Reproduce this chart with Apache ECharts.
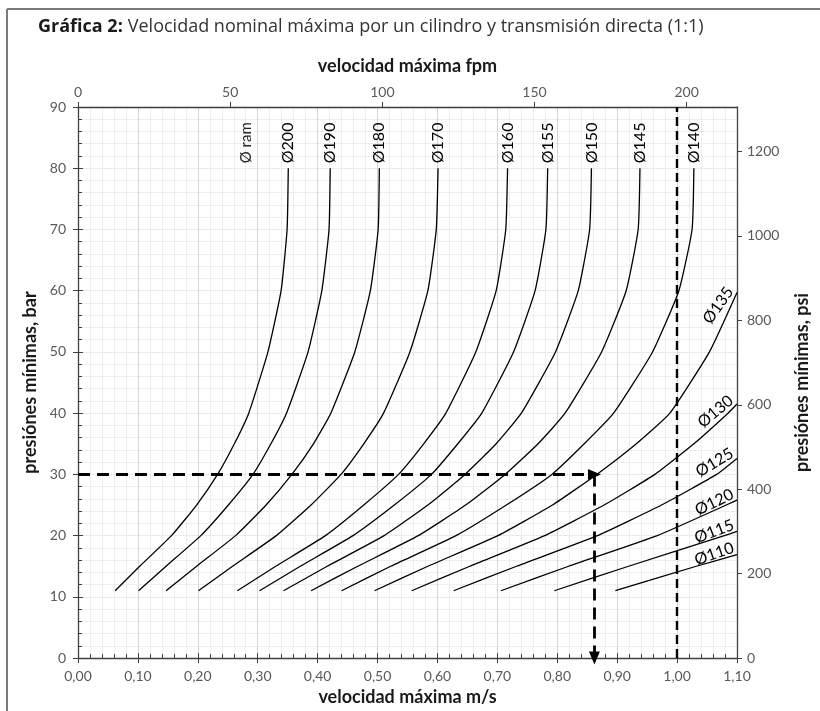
<!DOCTYPE html>
<html>
<head>
<meta charset="utf-8">
<script src="https://cdn.jsdelivr.net/npm/echarts@6/dist/echarts.min.js"></script>
<style>
  html, body { margin: 0; padding: 0; background: #fff; }
  #chart { width: 820px; height: 711px; }
</style>
</head>
<body>
<div id="chart"></div>
<script>
// presiones (bar) a las que se leen las curvas
var presiones = [11, 15, 20, 25, 30, 35, 40, 50, 60, 70, 80];

var v200 = [0.062, 0.103, 0.156, 0.198, 0.233, 0.261, 0.285, 0.317, 0.339, 0.349, 0.351];
var v190 = [0.101, 0.147, 0.205, 0.251, 0.292, 0.322, 0.348, 0.384, 0.407, 0.419, 0.421];
var v180 = [0.147, 0.198, 0.263, 0.314, 0.357, 0.393, 0.422, 0.462, 0.488, 0.501, 0.503];
var v170 = [0.201, 0.258, 0.331, 0.389, 0.439, 0.477, 0.510, 0.554, 0.584, 0.598, 0.601];
var v160 = [0.266, 0.330, 0.413, 0.477, 0.535, 0.577, 0.614, 0.664, 0.698, 0.714, 0.717];
var v155 = [0.303, 0.371, 0.459, 0.528, 0.590, 0.634, 0.674, 0.727, 0.763, 0.781, 0.784];
var v150 = [0.343, 0.416, 0.511, 0.584, 0.646, 0.698, 0.740, 0.797, 0.835, 0.854, 0.857];
var v145 = [0.389, 0.467, 0.568, 0.647, 0.713, 0.768, 0.813, 0.874, 0.915, 0.935, 0.938];
var v140 = [0.440, 0.522, 0.631, 0.715, 0.791, 0.845, 0.894, 0.959, 1.003, 1.025, 1.028];
var v135 = [0.495, 0.584, 0.701, 0.792, 0.866, 0.932, 0.988, 1.054];
var v130 = [0.557, 0.654, 0.779, 0.878, 0.963, 1.028, 1.085];
var v125 = [0.627, 0.732, 0.867, 0.974, 1.066];
var v120 = [0.706, 0.819, 0.967, 1.082];
var v115 = [0.795, 0.919, 1.079];
var v110 = [0.897, 1.032];

var diametros = [200, 190, 180, 170, 160, 155, 150, 145, 140, 135, 130, 125, 120, 115, 110];
var velocidades = [v200, v190, v180, v170, v160, v155, v150, v145, v140, v135, v130, v125, v120, v115, v110];

// curvas que salen por el borde derecho (1,10 m/s): presión de salida y ángulo del rótulo
var salidaDiam = [135, 130, 125, 120, 115, 110];
var salidaBar = [59.7, 41.5, 32.6, 25.8, 20.7, 16.9];
var salidaAngulo = [55, 40, 31, 26, 21, 19];

// lectura del ejemplo (flechas) y línea de 1 m/s
var ejemploBar = 30;
var ejemploVel = 0.862;
var limiteVel = 1.0;
var ramLabelAt = [0.281, 80];

// ejes
var xMax = 1.1, xInt = 0.1;
var yMax = 90, yInt = 10;
var FPM = 196.85, PSI = 14.5038;

var fontFam = 'Lato, "Open Sans", sans-serif';
var grisTxt = '#595959';
var ejeCol = '#404040';
var nombreEje = { fontFamily: fontFam, fontSize: 18, fontWeight: 'bold', color: '#1a1a1a' };

function coma(v) { return v.toFixed(2).replace('.', ','); }
function entero(v) { return String(Math.round(v)); }

function rotuloVertical(txt, size, color) {
  return {
    show: true, formatter: txt, position: 'top', distance: 5,
    rotate: 90, align: 'left', verticalAlign: 'middle',
    fontSize: size, fontFamily: fontFam, color: color
  };
}

var series = [];
diametros.forEach(function (d, i) {
  var vs = velocidades[i];
  var data = vs.map(function (v, k) { return [v, presiones[k]]; });
  var s = salidaDiam.indexOf(d);
  var last;
  if (s >= 0) {
    data.push([xMax, salidaBar[s]]);
    last = data.length - 1;
    data[last] = {
      value: data[last],
      label: {
        show: true, formatter: 'Ø' + d, position: [0, 0],
        rotate: salidaAngulo[s], align: 'right', verticalAlign: 'bottom',
        offset: [-1, 0], fontSize: 16, fontFamily: fontFam, color: '#000'
      }
    };
  } else {
    last = data.length - 1;
    data[last] = { value: data[last], label: rotuloVertical('Ø' + d, 16, '#000') };
  }
  series.push({
    name: 'Ø' + d,
    type: 'line',
    xAxisIndex: 0, yAxisIndex: 0,
    data: data,
    symbol: 'circle', symbolSize: 0, showSymbol: true,
    smooth: 0.15,
    clip: false,
    silent: true,
    lineStyle: { color: '#000', width: 1.3 },
    itemStyle: { color: '#000' },
    z: 3
  });
});

// rótulo "Ø ram"
series.push({
  type: 'line', xAxisIndex: 0, yAxisIndex: 0, silent: true,
  symbol: 'circle', symbolSize: 0, showSymbol: true,
  lineStyle: { width: 0 },
  data: [{ value: ramLabelAt, label: rotuloVertical('Ø ram', 15, '#262626') }]
});

// líneas discontinuas con flecha
var dash = { color: '#000', width: 2.8, type: [12, 7] };
series.push({
  type: 'line', xAxisIndex: 0, yAxisIndex: 0, data: [], silent: true,
  markLine: {
    silent: true, animation: false,
    symbol: ['none', 'triangle'], symbolSize: [11, 13],
    label: { show: false },
    lineStyle: dash,
    data: [
      [{ coord: [0, ejemploBar] }, { coord: [ejemploVel, ejemploBar] }],
      [{ coord: [ejemploVel, ejemploBar] }, { coord: [ejemploVel, 0] }]
    ]
  }
});
series.push({
  type: 'line', xAxisIndex: 0, yAxisIndex: 0, data: [], silent: true,
  markLine: {
    silent: true, animation: false,
    symbol: ['none', 'none'],
    label: { show: false },
    lineStyle: { color: '#000', width: 2.4, type: [9, 5] },
    data: [[{ coord: [limiteVel, 0] }, { coord: [limiteVel, yMax] }]]
  }
});

var chart = echarts.init(document.getElementById('chart'));
chart.setOption({
  animation: false,
  backgroundColor: '#fff',
  title: {
    left: 33, top: 13,
    text: '{b|Gráfica 2:} {n|Velocidad nominal máxima por un cilindro y transmisión directa (1:1)}',
    textStyle: {
      rich: {
        b: { fontFamily: '"Open Sans", Lato, sans-serif', fontSize: 18, fontWeight: 'bold', color: '#1a1a1a' },
        n: { fontFamily: '"Open Sans", Lato, sans-serif', fontSize: 18, fontWeight: 'normal', color: '#333' }
      }
    }
  },
  graphic: [
    { type: 'line', shape: { x1: 7, y1: 9, x2: 820, y2: 9 }, style: { stroke: '#7a7a7a', lineWidth: 2 } },
    { type: 'line', shape: { x1: 7, y1: 9, x2: 7, y2: 711 }, style: { stroke: '#7a7a7a', lineWidth: 2 } }
  ],
  grid: { left: 78, right: 83, top: 107, bottom: 51, containLabel: false },
  xAxis: [
    {
      type: 'value', position: 'bottom', min: 0, max: xMax, interval: xInt,
      name: 'velocidad máxima m/s', nameLocation: 'middle', nameGap: 27,
      nameTextStyle: nombreEje,
      axisLine: { show: true, onZero: false, lineStyle: { color: ejeCol, width: 1.3 } },
      axisTick: { show: true, inside: true, length: 5, lineStyle: { color: ejeCol } },
      minorTick: { show: true, splitNumber: 5, length: 4, lineStyle: { color: ejeCol } },
      axisLabel: { margin: 11, formatter: coma, fontFamily: fontFam, fontSize: 14, color: grisTxt },
      splitLine: { show: true, lineStyle: { color: '#d6d6d6', width: 1 } },
      minorSplitLine: { show: true, lineStyle: { color: '#eeeeee', width: 1 } }
    },
    {
      type: 'value', position: 'bottom', min: 0, max: xMax, interval: xInt,
      axisLine: { show: false },
      axisTick: { show: true, inside: false, length: 5, lineStyle: { color: ejeCol } },
      axisLabel: { show: false },
      splitLine: { show: false }
    },
    {
      type: 'value', position: 'top', min: 0, max: xMax * FPM, interval: 50,
      name: 'velocidad máxima fpm', nameLocation: 'middle', nameGap: 32,
      nameTextStyle: nombreEje,
      axisLine: { show: true, onZero: false, lineStyle: { color: ejeCol, width: 1.3 } },
      axisTick: { show: true, inside: false, length: 5, lineStyle: { color: ejeCol } },
      axisLabel: { margin: 8, showMaxLabel: false, formatter: entero, fontFamily: fontFam, fontSize: 14, color: grisTxt },
      splitLine: { show: false }
    }
  ],
  yAxis: [
    {
      type: 'value', position: 'left', min: 0, max: yMax, interval: yInt,
      name: 'presiónes mínimas, bar', nameLocation: 'middle', nameGap: 38,
      nameTextStyle: nombreEje,
      axisLine: { show: true, onZero: false, lineStyle: { color: ejeCol, width: 1.3 } },
      axisTick: { show: true, inside: true, length: 5, lineStyle: { color: ejeCol } },
      minorTick: { show: true, splitNumber: 5, length: 4, lineStyle: { color: ejeCol } },
      axisLabel: { margin: 12, fontFamily: fontFam, fontSize: 14, color: grisTxt },
      splitLine: { show: true, lineStyle: { color: '#eaeaea', width: 1 } },
      minorSplitLine: { show: true, lineStyle: { color: '#eeeeee', width: 1 } }
    },
    {
      type: 'value', position: 'left', min: 0, max: yMax, interval: yInt,
      axisLine: { show: false },
      axisTick: { show: true, inside: false, length: 5, lineStyle: { color: ejeCol } },
      axisLabel: { show: false },
      splitLine: { show: false }
    },
    {
      type: 'value', position: 'right', min: 0, max: yMax * PSI, interval: 200,
      name: 'presiónes mínimas, psi', nameLocation: 'middle', nameGap: 56, nameRotate: 90,
      nameTextStyle: nombreEje,
      axisLine: { show: true, onZero: false, lineStyle: { color: ejeCol, width: 1.3 } },
      axisTick: { show: true, inside: false, length: 5, lineStyle: { color: ejeCol } },
      axisLabel: { margin: 10, showMaxLabel: false, formatter: entero, fontFamily: fontFam, fontSize: 14, color: grisTxt },
      splitLine: { show: false }
    }
  ],
  series: series
});
</script>
</body>
</html>
